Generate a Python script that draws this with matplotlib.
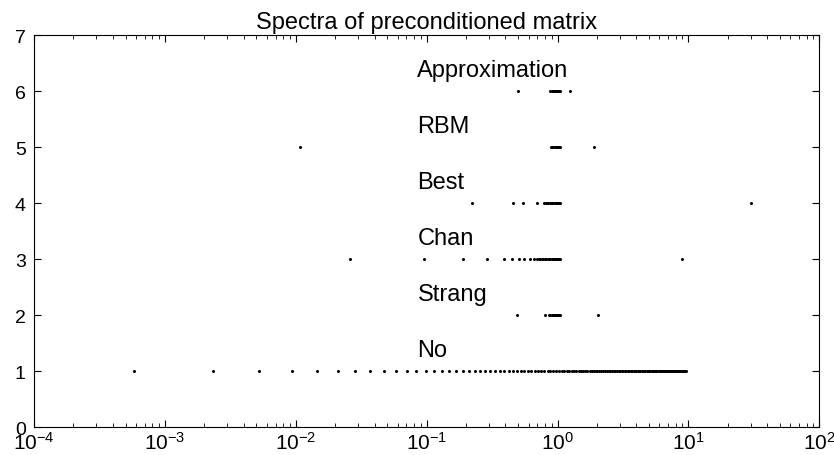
import numpy as np
import matplotlib
matplotlib.use("Agg")
import matplotlib.pyplot as plt
from matplotlib.ticker import LogLocator, NullFormatter

plt.rcParams['font.family'] = ['Liberation Sans', 'DejaVu Sans']
plt.rcParams['mathtext.fontset'] = 'custom'
plt.rcParams['mathtext.rm'] = 'Liberation Sans'
plt.rcParams['mathtext.it'] = 'Liberation Sans'

# eigenvalues, one list per preconditioner
no_prec = [0.00058, 0.00232, 0.00522, 0.00928, 0.0145, 0.0209, 0.0284, 0.0371,
           0.0470, 0.058, 0.0702, 0.0835, 0.0980, 0.114, 0.1305, 0.148, 0.168,
           0.188, 0.209, 0.232, 0.256, 0.281, 0.307, 0.334, 0.3625, 0.392, 0.423,
           0.455, 0.488, 0.522, 0.557, 0.594, 0.632, 0.670, 0.711, 0.752, 0.794,
           0.838, 0.882, 0.928, 0.975, 1.023, 1.072, 1.123, 1.175, 1.227, 1.281,
           1.336, 1.393, 1.45, 1.509, 1.568, 1.629, 1.691, 1.755, 1.819, 1.884,
           1.951, 2.019, 2.088, 2.158, 2.230, 2.302, 2.376, 2.451, 2.526, 2.604,
           2.682, 2.761, 2.842, 2.924, 3.007, 3.091, 3.176, 3.263, 3.350, 3.439,
           3.529, 3.620, 3.712, 3.805, 3.900, 3.996, 4.092, 4.191, 4.290, 4.390,
           4.492, 4.594, 4.698, 4.803, 4.909, 5.016, 5.125, 5.235, 5.345, 5.457,
           5.570, 5.685, 5.80, 5.917, 6.034, 6.153, 6.273, 6.395, 6.517, 6.640,
           6.765, 6.891, 7.018, 7.146, 7.276, 7.406, 7.538, 7.671, 7.804, 7.940,
           8.076, 8.213, 8.352, 8.492, 8.633, 8.775, 8.918, 9.063, 9.208, 9.355,
           9.503]
strang = [0.49, 0.80, 0.86, 0.88, 0.90, 0.92, 0.94, 0.96, 0.97, 0.98, 0.99,
          1.0, 1.0, 1.01, 1.02, 1.03, 1.05, 2.05]
chan = [0.0258, 0.095, 0.19, 0.29, 0.39, 0.45, 0.51, 0.55, 0.62, 0.66, 0.70,
        0.72, 0.74, 0.76, 0.78, 0.80, 0.82, 0.84, 0.86, 0.88, 0.90, 0.92, 0.94,
        0.96, 0.98, 0.99, 1.0, 1.01, 1.02, 1.03, 1.04, 9.0]
best = [0.223, 0.459, 0.547, 0.70, 0.79, 0.81, 0.83, 0.85, 0.87, 0.89, 0.91,
        0.93, 0.95, 0.97, 0.98, 0.99, 1.0, 1.01, 1.02, 1.04, 29.8]
rbm = [0.0108, 0.89, 0.91, 0.93, 0.95, 0.97, 0.98, 0.99, 1.0, 1.01, 1.03,
       1.05, 1.91]
approx = [0.50, 0.88, 0.90, 0.92, 0.94, 0.96, 0.98, 0.99, 1.0, 1.01, 1.02,
          1.03, 1.05, 1.25]

spectra = [no_prec, strang, chan, best, rbm, approx]
names = ["No", "Strang", "Chan", "Best", "RBM", "Approximation"]
label_x = 0.085

fig = plt.figure(figsize=(8.34, 4.56), dpi=100)
ax = fig.add_axes([0.0408, 0.0614, 0.9416, 0.8596])

for i, vals in enumerate(spectra):
    level = i + 1
    ax.plot(vals, np.full(len(vals), level), 'o', color='k',
            markersize=2.2, markeredgewidth=0)
    ax.text(label_x, level + 0.38, names[i], fontsize=17, va='center', ha='left')

ax.set_xscale('log')
ax.set_xlim(1e-4, 1e2)
ax.set_ylim(0, 7)
ax.set_yticks(range(0, 8))
ax.xaxis.set_major_locator(LogLocator(base=10, numticks=10))
ax.xaxis.set_minor_locator(LogLocator(base=10, subs=np.arange(2, 10), numticks=20))
ax.xaxis.set_minor_formatter(NullFormatter())
ax.tick_params(which='both', direction='in', top=True, right=True)
ax.tick_params(which='major', length=5, width=0.8)
ax.tick_params(which='minor', length=3, width=0.6)
ax.tick_params(axis='x', pad=3, labelsize=15)
ax.tick_params(axis='y', pad=6, labelsize=14)
for s in ax.spines.values():
    s.set_linewidth(0.8)

ax.set_title("Spectra of preconditioned matrix", fontsize=17, pad=5)

plt.savefig("out.png", dpi=100)
